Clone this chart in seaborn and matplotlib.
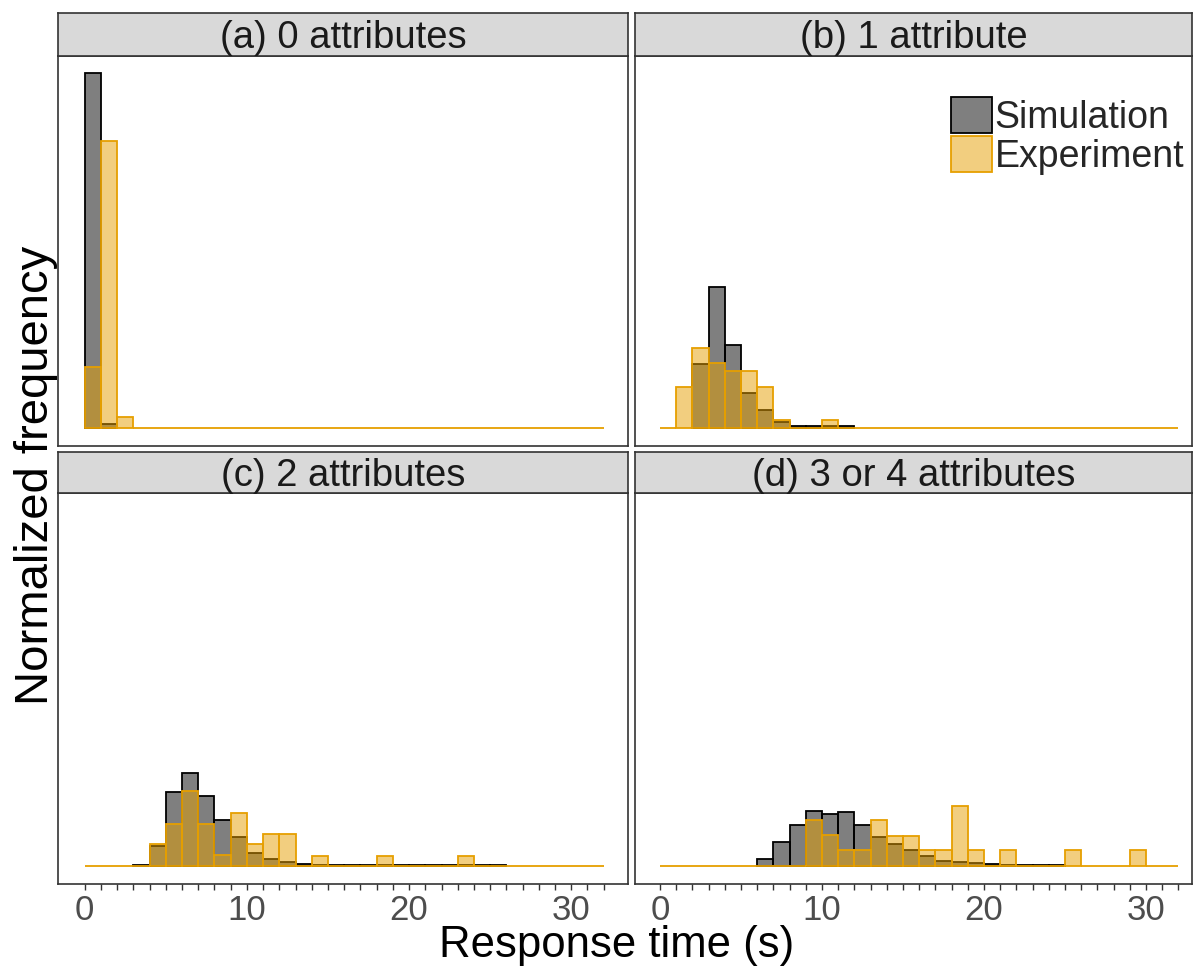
import numpy as np
import pandas as pd
import matplotlib
matplotlib.use("Agg")
import matplotlib.pyplot as plt
from matplotlib.patches import Patch
import seaborn as sns

# ---------------- data (normalized frequency per 1-s bin) ----------------
panels = ["(a) 0 attributes", "(b) 1 attribute", "(c) 2 attributes", "(d) 3 or 4 attributes"]
series = ["Simulation", "Experiment"]

# first bin (left edge, s) of each listed series
sim_start = [0, 2, 3, 6]
exp_start = [0, 1, 4, 9]

sim_a = [0.99, 0.01]
exp_a = [0.17, 0.80, 0.03]

sim_b = [0.178, 0.394, 0.232, 0.098, 0.051, 0.017, 0.005, 0.005, 0.005, 0.005]
exp_b = [0.115, 0.224, 0.182, 0.158, 0.158, 0.114, 0.023, 0.0, 0.0, 0.023]

sim_c = [0.003, 0.055, 0.205, 0.260, 0.195, 0.128, 0.081, 0.037, 0.020, 0.010,
         0.006, 0.003, 0.002, 0.002, 0.002, 0.002, 0.002, 0.002, 0.002, 0.002,
         0.002, 0.002, 0.002]
exp_c = [0.061, 0.116, 0.208, 0.116, 0.030, 0.147, 0.060, 0.089, 0.089, 0.0,
         0.029, 0.0, 0.0, 0.0, 0.029, 0.0, 0.0, 0.0, 0.0, 0.029]

sim_d = [0.020, 0.067, 0.114, 0.154, 0.144, 0.149, 0.115, 0.082, 0.061, 0.045,
         0.028, 0.014, 0.010, 0.008, 0.006, 0.004, 0.003, 0.003, 0.003]
exp_d = [0.128, 0.085, 0.044, 0.044, 0.128, 0.084, 0.084, 0.044, 0.044, 0.168,
         0.044, 0.0, 0.044, 0.0, 0.0, 0.0, 0.044, 0.0, 0.0, 0.0, 0.044]

sim_vals = [sim_a, sim_b, sim_c, sim_d]
exp_vals = [exp_a, exp_b, exp_c, exp_d]

x_max = 32          # experiment bins span 0..32 s in every panel
x_ticks = [0, 10, 20, 30]

# long table
rows = []
for p, name in enumerate(panels):
    for i, v in enumerate(sim_vals[p]):
        rows.append((name, "Simulation", sim_start[p] + i + 0.5, v))
    full = np.zeros(x_max)
    full[exp_start[p]:exp_start[p] + len(exp_vals[p])] = exp_vals[p]
    for i, v in enumerate(full):
        rows.append((name, "Experiment", i + 0.5, v))
df = pd.DataFrame(rows, columns=["panel", "source", "t", "dens"])

# ---------------- figure ----------------
sns.set_theme(style="white")
plt.rcParams["font.family"] = ["Liberation Sans", "DejaVu Sans"]

W, H = 1195, 967
fig = plt.figure(figsize=(W / 100, H / 100), dpi=100)

def fbox(l, t, r, b):
    return [l / W, 1 - b / H, (r - l) / W, (b - t) / H]

panel_px = [(58, 56, 628, 446), (635, 56, 1192, 446),
            (58, 493, 628, 884), (635, 493, 1192, 884)]
strip_px = [(58, 13, 628, 56), (635, 13, 1192, 56),
            (58, 452, 628, 493), (635, 452, 1192, 493)]
xlims = [(-1.65, 33.5), (-1.54, 32.84), (-1.65, 33.5), (-1.54, 32.84)]

orange = "#E69F00"
sim_face = (0, 0, 0, 0.5)
exp_face = (230 / 255, 159 / 255, 0, 0.5)
border = "#333333"

for p, name in enumerate(panels):
    ax = fig.add_axes(fbox(*panel_px[p]))
    sub = df[df.panel == name]
    s = sub[sub.source == "Simulation"]
    e = sub[sub.source == "Experiment"]
    sim_bins = list(range(sim_start[p], sim_start[p] + len(sim_vals[p]) + 1))
    exp_bins = list(range(0, x_max + 1))
    sns.histplot(data=s, x="t", weights="dens", bins=sim_bins,
                 stat="count", ax=ax, facecolor=sim_face, edgecolor="black",
                 linewidth=1.3)
    sns.histplot(data=e, x="t", weights="dens", bins=exp_bins,
                 stat="count", ax=ax, facecolor=exp_face, edgecolor=orange,
                 linewidth=1.3)
    ax.set_xlim(*xlims[p])
    ax.set_ylim(-0.05, 1.038)
    ax.set_xlabel("")
    ax.set_ylabel("")
    ax.set_yticks([])
    for sp in ax.spines.values():
        sp.set_visible(True)
        sp.set_color(border)
        sp.set_linewidth(1.2)
    if p >= 2:
        ax.set_xticks(np.arange(0, 33), minor=True)
        ax.set_xticks(x_ticks)
        ax.set_xticklabels([str(t) for t in x_ticks])
        ax.tick_params(axis="x", which="both", bottom=True, length=4, width=1,
                       color=border, labelsize=25, labelcolor="#4D4D4D", pad=3)
    else:
        ax.set_xticks([])

    # facet strip
    st = fig.add_axes(fbox(*strip_px[p]))
    st.set_facecolor("#D9D9D9")
    st.set_xticks([])
    st.set_yticks([])
    for sp in st.spines.values():
        sp.set_visible(True)
        sp.set_color(border)
        sp.set_linewidth(1.2)
    st.text(0.5, 0.41, name, transform=st.transAxes, ha="center", va="center",
            fontsize=27.5, color="#1A1A1A")

# legend
handles = [Patch(facecolor=sim_face, edgecolor="black", linewidth=1.3),
           Patch(facecolor=exp_face, edgecolor=orange, linewidth=1.3)]
fig.legend(handles, series, loc="upper left",
           bbox_to_anchor=(951 / W, 1 - 97 / H), bbox_transform=fig.transFigure,
           frameon=False, fontsize=27, handlelength=1.1, handleheight=1.12,
           handletextpad=0.06, labelspacing=0.0, borderpad=0, borderaxespad=0)

fig.text(617 / W, 1 - 945 / H, "Response time (s)", ha="center", va="center",
         fontsize=31.5, color="black")
fig.text(36 / W, 1 - 475 / H, "Normalized frequency", ha="center", va="center",
         rotation=90, fontsize=34, color="black")

fig.savefig("out.png", dpi=100)
